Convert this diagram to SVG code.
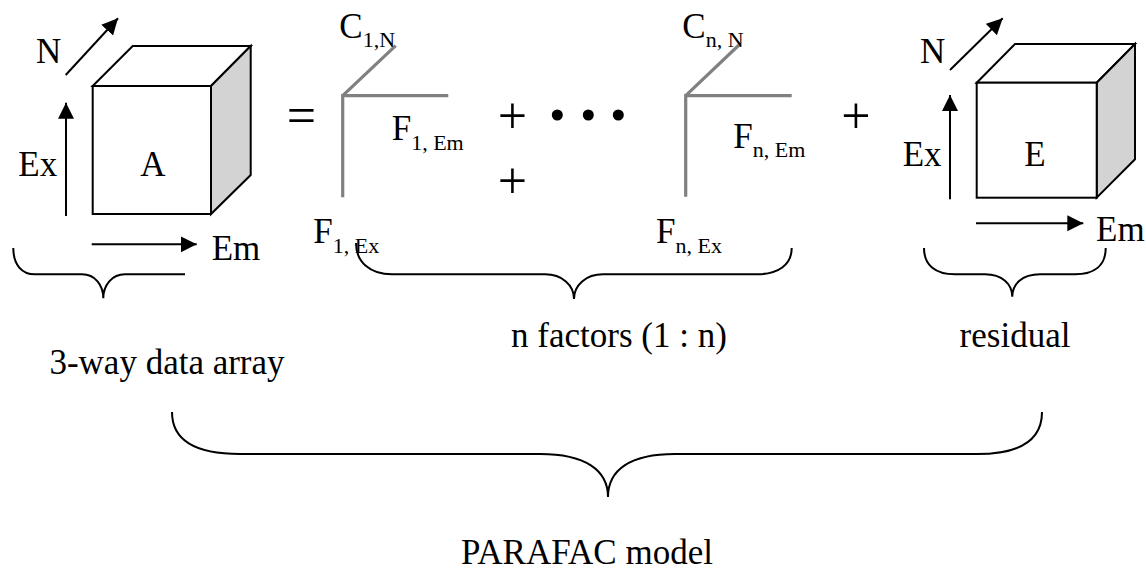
<svg xmlns="http://www.w3.org/2000/svg" width="1146" height="574" viewBox="0 0 1146 574">
<style>
text{font-family:"Liberation Serif","Times New Roman",serif;font-size:35px;fill:#000}
.sub{font-size:22px}
.op{font-size:52px}
.edge{fill:#fff;stroke:#000;stroke-width:2;stroke-linejoin:miter}
.side{fill:#d3d3d3;stroke:#000;stroke-width:2}
.ax{stroke:#000;stroke-width:2;fill:none}
.fac{stroke:#808080;stroke-width:3.2;fill:none;stroke-linecap:butt}
.brace{stroke:#000;stroke-width:2;fill:none}
</style>
<defs>
<marker id="ah" markerUnits="userSpaceOnUse" markerWidth="18" markerHeight="18" refX="16" refY="8" orient="auto">
<path d="M0,0 L16,8 L0,16 Z" fill="#000"/>
</marker>
</defs>
<rect width="1146" height="574" fill="#fff"/>

<g id="cubeA">
<path class="edge" d="M92.7,86 L132.7,46 L250.7,46 L211,86 Z"/>
<path class="side" d="M211,86 L250.7,46 L250.7,175 L211,214 Z"/>
<rect class="edge" x="92.7" y="86" width="118.3" height="128"/>
<text x="153" y="176" text-anchor="middle">A</text>
</g>
<g id="axesA">
<line class="ax" x1="65.7" y1="75" x2="118" y2="18.3" marker-end="url(#ah)"/>
<line class="ax" x1="66" y1="216" x2="66" y2="102.7" marker-end="url(#ah)"/>
<line class="ax" x1="91.7" y1="244.3" x2="196.7" y2="244.3" marker-end="url(#ah)"/>
<text x="36" y="63">N</text>
<text x="18.3" y="176">Ex</text>
<text x="211.7" y="260">Em</text>
</g>

<text id="eq" class="op" x="301.5" y="133" text-anchor="middle">=</text>

<g id="factor1">
<path class="fac" d="M342.7,197.3 L342.7,95.7 L448.3,95.7 M342.7,95.7 L395.7,45.7"/>
<text x="339.3" y="38">C<tspan class="sub" y="47">1,N</tspan></text>
<text x="391.7" y="140">F<tspan class="sub" y="149.5">1, Em</tspan></text>
<text x="313.3" y="243.3">F<tspan class="sub" y="253.3">1, Ex</tspan></text>
</g>

<text id="plus1" class="op" x="512.5" y="133" text-anchor="middle">+</text>
<text id="plus2" class="op" x="512.5" y="198" text-anchor="middle">+</text>

<g id="dots">
<circle cx="557.3" cy="115" r="5.5"/>
<circle cx="588.3" cy="115" r="5.5"/>
<circle cx="618.3" cy="115" r="5.5"/>
</g>

<g id="factorN">
<path class="fac" d="M685.7,196.7 L685.7,95.7 L791.7,95.7 M685.7,95.7 L739,45"/>
<text x="682.3" y="38">C<tspan class="sub" y="47">n, N</tspan></text>
<text x="733.3" y="148">F<tspan class="sub" y="157">n, Em</tspan></text>
<text x="656" y="243.3">F<tspan class="sub" y="253.3">n, Ex</tspan></text>
</g>

<text id="plus3" class="op" x="856" y="133" text-anchor="middle">+</text>

<g id="cubeE">
<path class="edge" d="M976.7,82.7 L1015,44 L1135,44 L1096.7,82.7 Z"/>
<path class="side" d="M1096.7,82.7 L1135,44 L1135,159.3 L1096.7,197.7 Z"/>
<rect class="edge" x="976.7" y="82.7" width="120" height="115"/>
<text x="1035" y="165.7" text-anchor="middle">E</text>
</g>
<g id="axesE">
<line class="ax" x1="950" y1="70" x2="1002.7" y2="18.3" marker-end="url(#ah)"/>
<line class="ax" x1="950" y1="199.3" x2="950" y2="95" marker-end="url(#ah)"/>
<line class="ax" x1="976" y1="223.3" x2="1083.3" y2="223.3" marker-end="url(#ah)"/>
<text x="920" y="62.7">N</text>
<text x="902.7" y="165.7">Ex</text>
<text x="1096" y="240.7">Em</text>
</g>

<g id="braces">
<path class="brace" d="M13.3,248 C13.3,265 22,274.3 35,274.3 L82,274.3 C95,274.3 103.3,285 103.3,298.3 C103.3,285 112,274.3 125,274.3 L185,274.3"/>
<path class="brace" d="M356,243 C356,262 370,274.3 392,274.3 L545,274.3 C562,274.3 574,285 574,299 C574,285 586,274.3 603,274.3 L757,274.3 C778,274.3 791.7,265 791.7,248"/>
<path class="brace" d="M924,248 C924,265 935,274.3 955,274.3 L985,274.3 C1002,274.3 1012.3,284 1012.3,296.7 C1012.3,284 1022,274.3 1040,274.3 L1075,274.3 C1095,274.3 1105.7,265 1105.7,248"/>
<path class="brace" d="M172,412 C172,440 195,454 240,454 L540,454 C585,454 608,470 608,497 C608,470 630,454 675,454 L977,454 C1020,454 1042,440 1042,412"/>
</g>

<g id="labels">
<text x="167" y="374" text-anchor="middle">3-way data array</text>
<text x="619" y="346.7" text-anchor="middle">n factors (1 : n)</text>
<text x="1015" y="346.7" text-anchor="middle">residual</text>
<text x="587" y="564" text-anchor="middle">PARAFAC model</text>
</g>
</svg>
